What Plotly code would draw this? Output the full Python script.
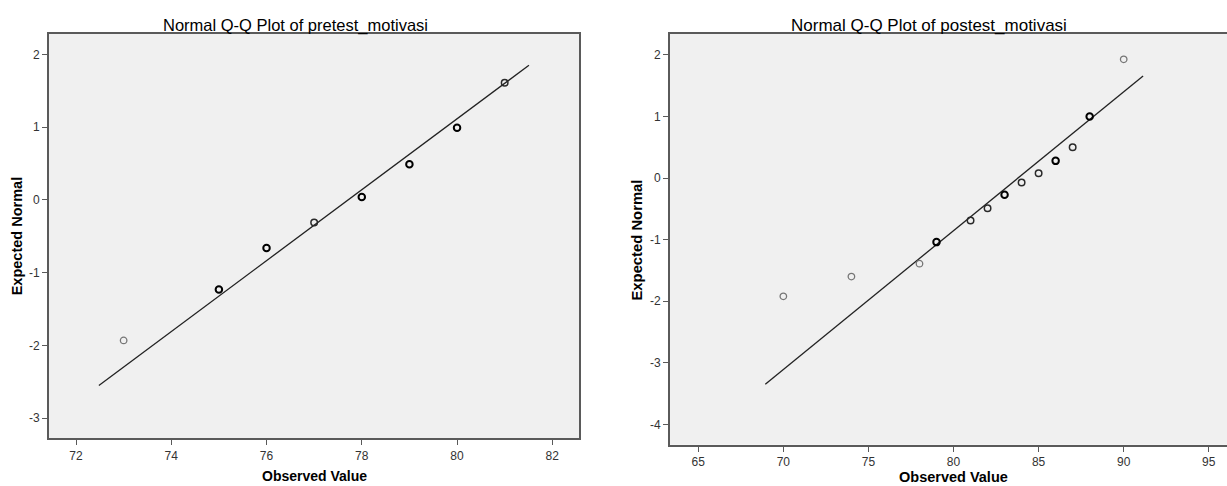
import plotly.graph_objects as go

# ---------------- data ----------------
pre_title = "Normal Q-Q Plot of pretest_motivasi"
post_title = "Normal Q-Q Plot of postest_motivasi"
x_label = "Observed Value"
y_label = "Expected Normal"

pre_observed = [73, 75, 76, 77, 78, 79, 80, 81]
pre_expected = [-1.93, -1.23, -0.66, -0.31, 0.04, 0.49, 0.99, 1.61]
pre_counts = [1, 5, 6, 3, 7, 6, 5, 3]
pre_line_x = [72.48, 81.51]
pre_line_y = [-2.55, 1.85]
pre_xticks = [72, 74, 76, 78, 80, 82]
pre_yticks = [-3, -2, -1, 0, 1, 2]

post_observed = [70, 74, 78, 79, 81, 82, 83, 84, 85, 86, 87, 88, 90]
post_expected = [-1.92, -1.60, -1.39, -1.04, -0.69, -0.49, -0.27, -0.07, 0.08, 0.28, 0.50, 1.00, 1.93]
post_counts = [1, 1, 1, 4, 3, 2, 4, 2, 2, 4, 2, 9, 1]
post_line_x = [68.94, 91.14]
post_line_y = [-3.35, 1.66]
post_xticks = [65, 70, 75, 80, 85, 90, 95]
post_yticks = [-4, -3, -2, -1, 0, 1, 2]

# ---------------- layout helpers ----------------
W, H = 1227, 486


def px_x(p):
    return p / W


def px_y(p):
    return 1 - p / H


def marker_style(counts):
    colors, widths = [], []
    for c in counts:
        if c <= 1:
            colors.append("#767676"); widths.append(1.3)
        elif c <= 3:
            colors.append("#2a2a2a"); widths.append(1.5)
        else:
            colors.append("#000000"); widths.append(2.0)
    return colors, widths


def tick_text(vals):
    return [str(v) for v in vals]  # plain hyphen minus, as in the reference


fig = go.Figure()

for obs, exp, cnt, lx, ly, xa, ya in [
    (pre_observed, pre_expected, pre_counts, pre_line_x, pre_line_y, "x", "y"),
    (post_observed, post_expected, post_counts, post_line_x, post_line_y, "x2", "y2"),
]:
    fig.add_trace(go.Scatter(x=lx, y=ly, mode="lines",
                             line=dict(color="#222222", width=1.3),
                             xaxis=xa, yaxis=ya, showlegend=False, hoverinfo="skip"))
    cols, wid = marker_style(cnt)
    fig.add_trace(go.Scatter(x=obs, y=exp, mode="markers",
                             marker=dict(symbol="circle-open", size=6.5, color=cols,
                                         line=dict(color=cols, width=wid)),
                             xaxis=xa, yaxis=ya, showlegend=False))

tick_font = dict(family="Liberation Sans Narrow, Arial Narrow, Liberation Sans, Arial", size=12, color="#333333")
axis_common = dict(showgrid=False, zeroline=False, showline=True, linecolor="#5a5a5a", linewidth=1.8,
                   ticks="outside", ticklen=5, tickwidth=1, tickcolor="#5a5a5a",
                   tickfont=tick_font, automargin=False, fixedrange=True)

fig.update_layout(
    width=W, height=H,
    margin=dict(l=0, r=0, t=0, b=0, autoexpand=False),
    paper_bgcolor="white",
    plot_bgcolor="#f0f0f0",
    xaxis=dict(domain=[px_x(49), px_x(579.3)], range=[71.433, 82.567],
               tickvals=pre_xticks, ticktext=tick_text(pre_xticks),
               anchor="y", mirror=True, **axis_common),
    yaxis=dict(domain=[px_y(438.3), px_y(34)], range=[-3.275, 2.279],
               tickvals=pre_yticks, ticktext=tick_text(pre_yticks),
               anchor="x", mirror=True, **axis_common),
    xaxis2=dict(domain=[px_x(670), 1.0], range=[63.34, 96.07],
                tickvals=post_xticks, ticktext=tick_text(post_xticks),
                anchor="y2", mirror=True, **axis_common),
    yaxis2=dict(domain=[px_y(444.7), px_y(34)], range=[-4.331, 2.341],
                tickvals=post_yticks, ticktext=tick_text(post_yticks),
                anchor="x2", mirror=False, **axis_common),
)

title_font = "Liberation Sans, Arial, sans-serif"
ann = [
    dict(text=pre_title, x=px_x(295.5), y=px_y(25), font=dict(family=title_font, size=16.5, color="#000")),
    dict(text=post_title, x=px_x(928.7), y=px_y(25.5), font=dict(family=title_font, size=17, color="#000")),
    dict(text="<b>" + x_label + "</b>", x=px_x(314), y=px_y(476), font=dict(family=title_font, size=14, color="#000")),
    dict(text="<b>" + x_label + "</b>", x=px_x(953.5), y=px_y(476.5), font=dict(family=title_font, size=14.5, color="#000")),
    dict(text="<b>" + y_label + "</b>", x=px_x(17), y=px_y(236.3), textangle=-90,
         font=dict(family=title_font, size=14.5, color="#000")),
    dict(text="<b>" + y_label + "</b>", x=px_x(636), y=px_y(239.5), textangle=-90,
         font=dict(family=title_font, size=14.8, color="#000")),
]
for a in ann:
    a.update(xref="paper", yref="paper", xanchor="center", yanchor="middle", showarrow=False)
fig.update_layout(annotations=ann)

fig.write_html("out.html",
               config={"displayModeBar": False},
               post_script="document.body.style.margin='0';document.body.style.overflow='hidden';")
